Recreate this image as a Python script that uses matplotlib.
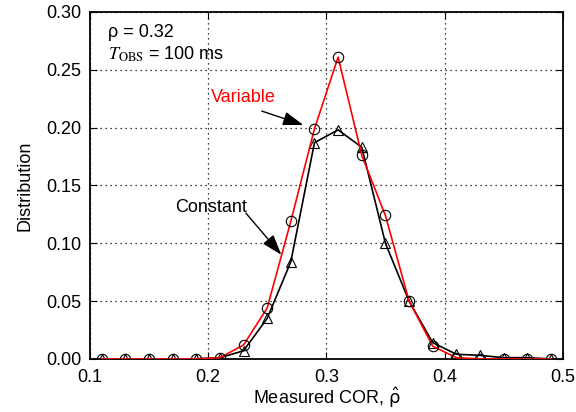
import numpy as np
import matplotlib.pyplot as plt

plt.rcParams['font.family'] = ['Liberation Sans', 'DejaVu Sans']
plt.rcParams['mathtext.fontset'] = 'stix'

cor = [0.11, 0.13, 0.15, 0.17, 0.19, 0.21, 0.23, 0.25, 0.27, 0.29,
       0.31, 0.33, 0.35, 0.37, 0.39, 0.41, 0.43, 0.45, 0.47, 0.49]
variable = [0.0, 0.0, 0.0, 0.0, 0.0, 0.001, 0.012, 0.044, 0.119, 0.199,
            0.261, 0.176, 0.124, 0.050, 0.011, 0.001, 0.0, 0.0, 0.0, 0.0]
constant = [0.0, 0.0, 0.0, 0.0, 0.0, 0.001, 0.007, 0.035, 0.084, 0.187,
            0.198, 0.183, 0.100, 0.050, 0.014, 0.004, 0.003, 0.001, 0.001, 0.0]

fs = 13
fig = plt.figure(figsize=(5.76, 4.12), dpi=100)
ax = fig.add_axes([0.156, 0.129, 0.821, 0.842])

ax.plot(cor, constant, color='black', lw=1.2, marker='^', ms=7.5,
        mfc='none', mec='black', mew=0.8, zorder=3)
ax.plot(cor, variable, color='red', lw=1.2, zorder=4)
ax.plot(cor, variable, ls='none', marker='o', ms=7.5,
        mfc='none', mec='black', mew=0.8, zorder=5)

ax.set_xlim(0.1, 0.5)
ax.set_ylim(0.0, 0.30)
ax.set_xticks([0.1, 0.2, 0.3, 0.4, 0.5])
ax.set_xticklabels(['0.1', '0.2', '0.3', '0.4', '0.5'])
ax.set_yticks(np.arange(0, 0.301, 0.05))
ax.set_yticklabels(['0.00', '0.05', '0.10', '0.15', '0.20', '0.25', '0.30'])
ax.tick_params(direction='in', top=True, right=True, labelsize=fs, length=5)
ax.tick_params(axis='x', pad=7)
ax.tick_params(axis='y', pad=6)
ax.grid(True, color='black', ls=(0, (1, 3)), lw=0.9)
for s in ax.spines.values():
    s.set_linewidth(1.3)

ax.set_xlabel('Measured COR, ' + r'$\hat{\mathrm{\rho}}$', fontsize=fs,
              labelpad=0, math_fontfamily='dejavusans')
ax.set_ylabel('Distribution', fontsize=fs, labelpad=9)

ax.text(0.115, 0.282, 'ρ = 0.32', fontsize=fs, va='center')
ax.text(0.115, 0.263, r'$T_{\mathrm{OBS}}$ = 100 ms', fontsize=fs, va='center')

arrow = dict(arrowstyle='-|>,head_length=0.9,head_width=0.3', color='black',
             lw=1, shrinkA=0, shrinkB=0, mutation_scale=14)
ax.text(0.2025, 0.2256, 'Variable', color='red', fontsize=fs,
        ha='left', va='center')
ax.annotate('', xy=(0.2807, 0.2022), xytext=(0.2454, 0.2143),
            arrowprops=arrow)
ax.text(0.2025, 0.131, 'Constant', color='black', fontsize=fs,
        ha='center', va='center')
ax.annotate('', xy=(0.262, 0.090), xytext=(0.232, 0.126),
            arrowprops=arrow)

fig.savefig('out.png', dpi=100)
